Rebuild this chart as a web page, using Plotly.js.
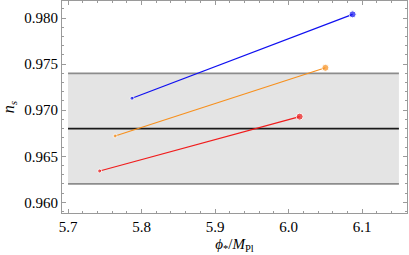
<!DOCTYPE html>
<html><head><meta charset="utf-8">
<script src="https://cdn.plot.ly/plotly-3.0.1.min.js"></script>
<style>html,body{margin:0;padding:0;background:#fff;}#plot{width:409px;height:255px;}</style>
</head><body><div id="plot"></div>
<script>
// Data
var seriesNames = ["blue", "orange", "red"];
var blueX = [5.787, 6.087];
var blueY = [0.9713, 0.9804];
var orangeX = [5.764, 6.050];
var orangeY = [0.9672, 0.9746];
var redX = [5.743, 6.015];
var redY = [0.9634, 0.9693];
var bandX = [5.7, 6.15];
var bandLow = [0.962, 0.962];
var bandHigh = [0.974, 0.974];
var centralY = [0.968, 0.968];
var xTicks = [5.7, 5.8, 5.9, 6.0, 6.1];
var xTickText = ["5.7", "5.8", "5.9", "6.0", "6.1"];
var yTicks = [0.960, 0.965, 0.970, 0.975, 0.980];
var yTickText = ["0.960", "0.965", "0.970", "0.975", "0.980"];

var FONT = '"Liberation Serif", "Times New Roman", Times, serif';

var traces = [
  {x: bandX, y: bandLow, mode: 'lines', line: {color: '#8c8c8c', width: 1.6}, hoverinfo: 'skip'},
  {x: bandX, y: bandHigh, mode: 'lines', line: {color: '#8c8c8c', width: 1.6}, fill: 'tonexty', fillcolor: '#e4e4e4', hoverinfo: 'skip'},
  {x: bandX, y: centralY, mode: 'lines', line: {color: '#1a1a1a', width: 1.8}},
  {x: redX, y: redY, mode: 'lines+markers', line: {color: '#f01c1c', width: 1.2}, marker: {color: '#f01c1c', size: [4, 7]}},
  {x: orangeX, y: orangeY, mode: 'lines+markers', line: {color: '#f7901e', width: 1.2}, marker: {color: '#f7901e', size: [4, 7]}},
  {x: blueX, y: blueY, mode: 'lines+markers', line: {color: '#1010f0', width: 1.2}, marker: {color: '#1010f0', size: [4, 7]}}
];

var axisCommon = {
  showline: true, linecolor: '#9a9a9a', linewidth: 1, mirror: 'allticks',
  ticks: 'inside', ticklen: 4, tickcolor: '#9a9a9a', tickwidth: 1,
  showgrid: false, zeroline: false,
  tickfont: {family: FONT, size: 15, color: '#000'}
};

var layout = {
  width: 409, height: 255,
  margin: {l: 62, r: 2, t: 1, b: 42},
  showlegend: false,
  font: {family: FONT},
  paper_bgcolor: '#fff', plot_bgcolor: '#fff',
  xaxis: Object.assign({}, axisCommon, {
    range: [5.6918, 6.161],
    tickvals: xTicks, ticktext: xTickText,
    minor: {dtick: 0.02, tick0: 5.7, ticks: 'inside', ticklen: 2, tickcolor: '#9a9a9a', tickwidth: 1},
    title: {text: '<i>ϕ</i><sub>*</sub>/<i>M</i><sub>Pl</sub>', font: {family: FONT, size: 15, color: '#000'}, standoff: 4}
  }),
  yaxis: Object.assign({}, axisCommon, {
    range: [0.95884, 0.98185],
    tickvals: yTicks, ticktext: yTickText,
    minor: {dtick: 0.001, tick0: 0.96, ticks: 'inside', ticklen: 2, tickcolor: '#9a9a9a', tickwidth: 1},
    title: {text: '<i>n</i><sub><i>s</i></sub>', font: {family: FONT, size: 16, color: '#000'}, standoff: 6}
  })
};

Plotly.newPlot('plot', traces, layout, {displayModeBar: false, staticPlot: true});
</script></body></html>
